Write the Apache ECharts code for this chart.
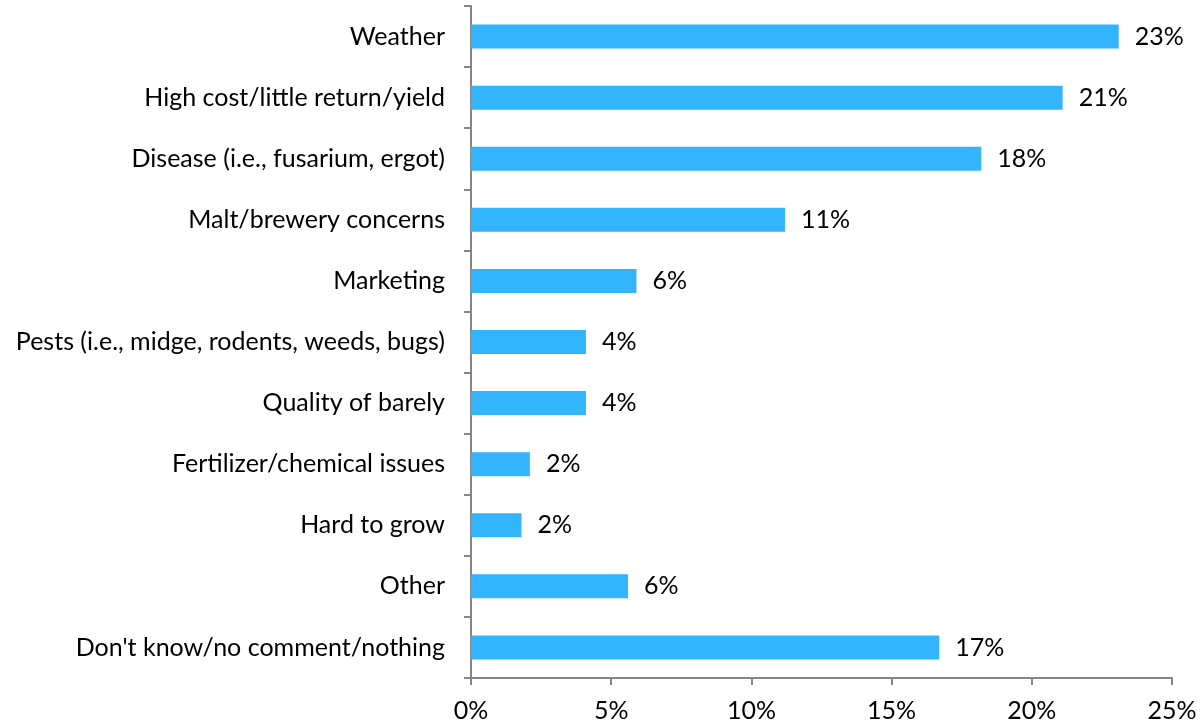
<!DOCTYPE html>
<html>
<head>
<meta charset="utf-8">
<script src="https://cdn.jsdelivr.net/npm/echarts@6/dist/echarts.min.js"></script>
<style>
  html, body { margin: 0; padding: 0; background: #fff; }
  #chart { width: 1200px; height: 726px; }
</style>
</head>
<body>
<div id="chart"></div>
<script>
// Reasons cited, listed top to bottom
const categories = [
  "Weather",
  "High cost/little return/yield",
  "Disease (i.e., fusarium, ergot)",
  "Malt/brewery concerns",
  "Marketing",
  "Pests (i.e., midge, rodents, weeds, bugs)",
  "Quality of barely",
  "Fertilizer/chemical issues",
  "Hard to grow",
  "Other",
  "Don't know/no comment/nothing"
];
// Share of respondents, percent
const shares = [23.1, 21.1, 18.2, 11.2, 5.9, 4.1, 4.1, 2.1, 1.8, 5.6, 16.7];
const xTicks = [0, 5, 10, 15, 20, 25];

const FONT = "Lato, 'Open Sans', sans-serif";
const AXIS = '#868686';

const chart = echarts.init(document.getElementById('chart'), null, { renderer: 'canvas' });
chart.setOption({
  animation: false,
  grid: { left: 471, right: 28, top: 6, bottom: 48, containLabel: false },
  xAxis: {
    type: 'value',
    min: xTicks[0],
    max: xTicks[xTicks.length - 1],
    interval: xTicks[1] - xTicks[0],
    axisLine: { show: true, lineStyle: { color: AXIS, width: 2 } },
    axisTick: { show: true, length: 7, lineStyle: { color: AXIS, width: 2 } },
    splitLine: { show: false },
    axisLabel: {
      formatter: v => v + '%',
      color: '#000', fontFamily: FONT, fontSize: 25, margin: 20
    }
  },
  yAxis: {
    type: 'category',
    data: categories,
    inverse: true,
    axisLine: { show: true, lineStyle: { color: AXIS, width: 2 } },
    axisTick: { show: true, length: 7, lineStyle: { color: AXIS, width: 2 } },
    axisLabel: {
      color: '#000', fontFamily: FONT, fontSize: 25, margin: 26
    }
  },
  series: [{
    type: 'bar',
    data: shares,
    barWidth: 24,
    itemStyle: { color: '#33b4ff' },
    label: {
      show: true,
      position: 'right',
      distance: 16,
      formatter: p => Math.round(p.value) + '%',
      color: '#000', fontFamily: FONT, fontSize: 25
    }
  }]
});
</script>
</body>
</html>
